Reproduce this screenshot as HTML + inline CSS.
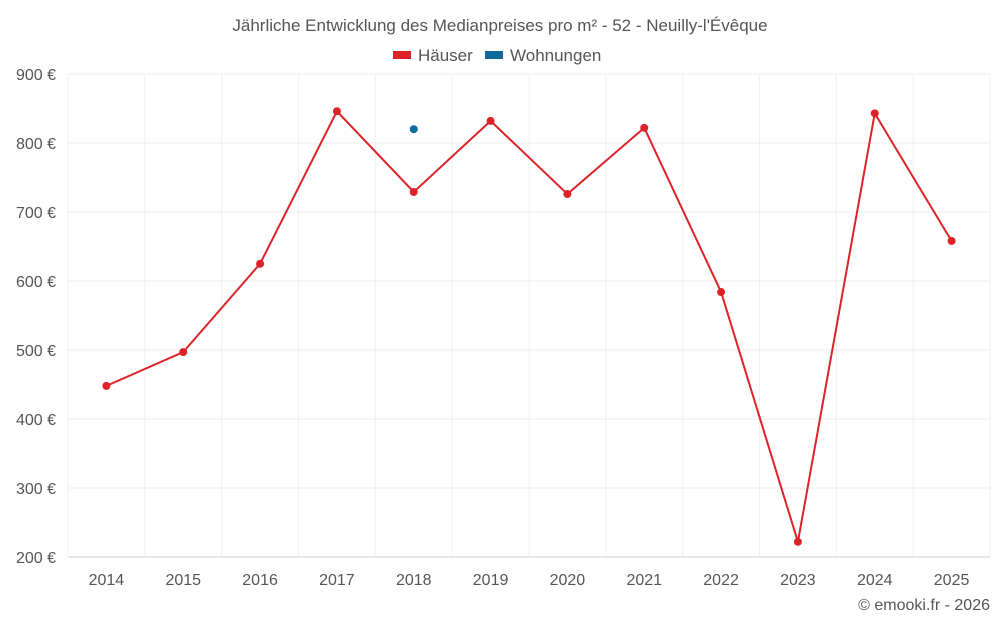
<!DOCTYPE html>
<html><head><meta charset="utf-8"><style>
body{margin:0;background:#fff;font-family:"Liberation Sans",sans-serif;}
svg text{font-family:"Liberation Sans",sans-serif;}
</style></head><body>
<svg id="c" width="1000" height="625">
<text x="500" y="31" text-anchor="middle" font-size="17" fill="#555">Jährliche Entwicklung des Medianpreises pro m² - 52 - Neuilly-l'Évêque</text>
<g>
<g><rect x="393" y="51" width="18" height="8" fill="#dc2428"/><text x="418" y="61" font-size="17" fill="#555">Häuser</text></g>
<g><rect x="485" y="51" width="18" height="8" fill="#0f6aa0"/><text x="510" y="61" font-size="17" fill="#555">Wohnungen</text></g>
</g>
<g id="grid"></g><g id="axes"></g><g id="marks"></g>
<text x="990" y="610" text-anchor="end" font-size="16" fill="#555">© emooki.fr - 2026</text>
</svg>
<script>
const years=["2014","2015","2016","2017","2018","2019","2020","2021","2022","2023","2024","2025"];
const houses=[448,497,625,846,729,832,726,822,584,222,843,658];
const apartments=[null,null,null,null,820,null,null,null,null,null,null,null];
const yTicks=[200,300,400,500,600,700,800,900];
const L=68,R=990,T=74,B=557,ymin=200,ymax=900;
const bw=(R-L)/years.length;
const x=i=>L+bw*(i+0.5);
const y=v=>B-(v-ymin)/(ymax-ymin)*(B-T);
const NS="http://www.w3.org/2000/svg";
function mk(tag,attrs,parent){const e=document.createElementNS(NS,tag);for(const k in attrs)e.setAttribute(k,attrs[k]);document.getElementById(parent).appendChild(e);return e;}
yTicks.forEach(t=>{
 const g=mk("line",{x1:L,x2:R,y1:y(t),y2:y(t),stroke:t==ymin?"#ccc":"#ececec"},"grid");
 
 
 const tx=mk("text",{x:56,y:y(t)+6,"text-anchor":"end","font-size":16,fill:"#555"},"axes");
 tx.textContent=t+" €";
 
 
});
for(let i=0;i<=years.length;i++){
 const g=mk("line",{x1:L+bw*i,x2:L+bw*i,y1:T,y2:B,stroke:"#f0f0f0"},"grid");
 
 
}
years.forEach((yr,i)=>{
 const tx=mk("text",{x:x(i),y:585,"text-anchor":"middle","font-size":16,fill:"#555"},"axes");
 tx.textContent=yr;
 
 
});
const p=mk("polyline",{points:houses.map((v,i)=>x(i)+","+y(v)).join(" "),fill:"none",stroke:"#dc2428","stroke-width":2},"marks");


houses.forEach((v,i)=>{
 const c=mk("circle",{cx:x(i),cy:y(v),r:4,fill:"#dc2428"},"marks");
 
 
});
apartments.forEach((v,i)=>{
 if(v==null)return;
 const c=mk("circle",{cx:x(i),cy:y(v),r:4,fill:"#0f6aa0"},"marks");
 
 
});
</script>
</body></html>
